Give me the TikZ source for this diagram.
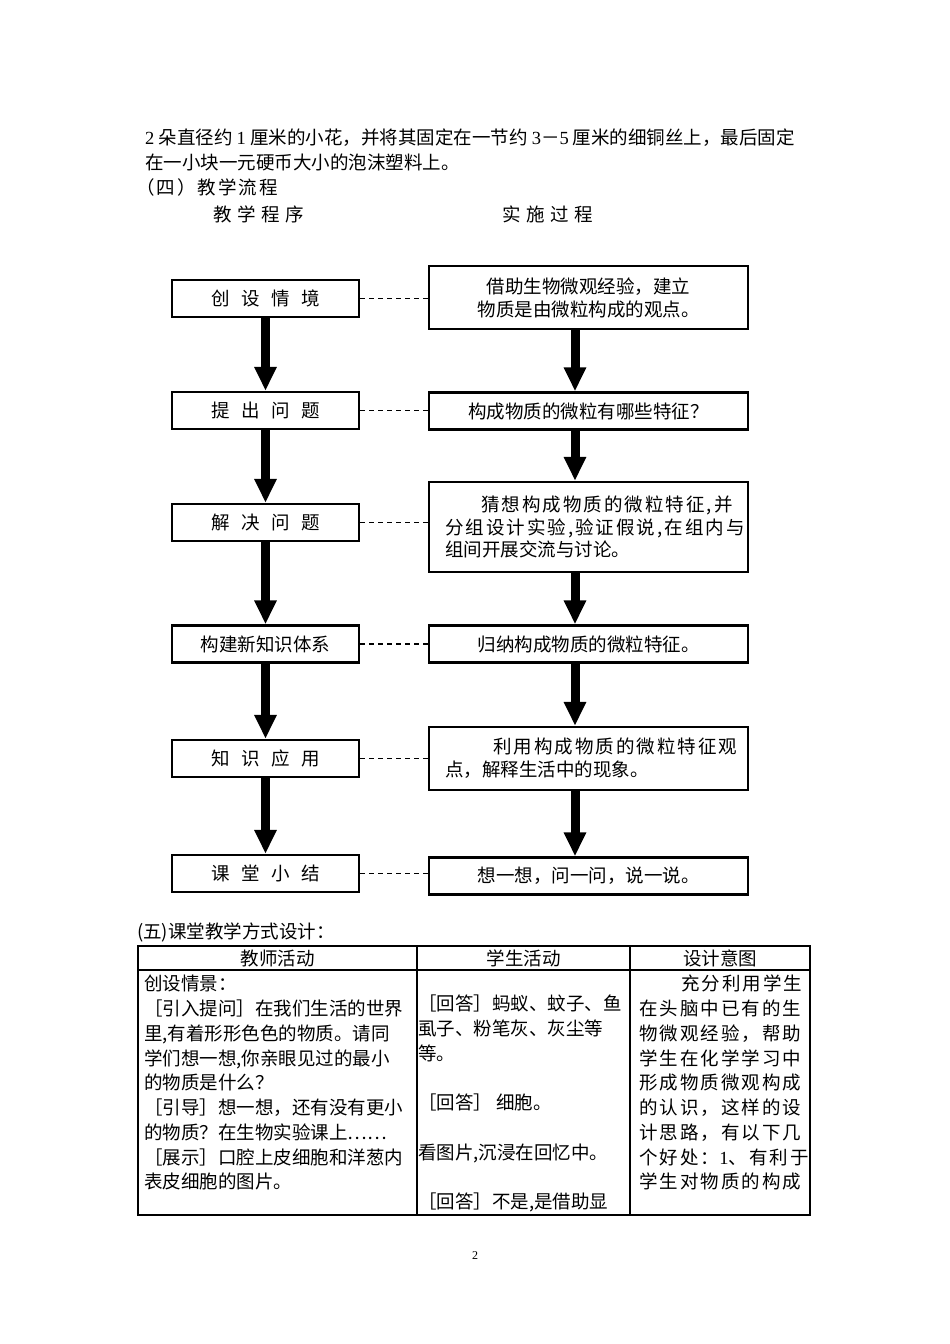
\documentclass[tikz,border=0pt]{standalone}
\usepackage{fontspec}
\usetikzlibrary{arrows.meta, positioning}
\setmainfont{Noto Sans CJK SC}
\newfontfamily\latinrm{Liberation Serif}
\newfontfamily\widecjk[LetterSpace=11]{Noto Sans CJK SC}
\newcommand{\wgap}{\hspace{0.62em}}
\newcommand{\ngap}{\hspace{0.3em}}

\tikzset{
  body/.style={font=\fontsize{18.5}{24.75}\selectfont, inner sep=0pt, align=left},
  phasebox/.style={draw, line width=2.4pt, minimum width=187pt, minimum height=37pt,
    inner sep=0pt, font=\fontsize{18.5}{23}\selectfont},
  actbox/.style={draw, line width=2.4pt, text width=287pt, inner xsep=16pt, inner ysep=0pt,
    minimum height=37pt, font=\fontsize{18.5}{23}\selectfont},
  flowarrow/.style={line width=9pt, -{Triangle[width=21pt,length=24pt]}},
  linkline/.style={line width=1.2pt, dash pattern=on 5pt off 4pt},
  rule/.style={line width=1.1pt}
}

\begin{document}
\begin{tikzpicture}[x=1pt, y=-1pt]
  \fill[white] (0,0) rectangle (950,1344);
  \useasboundingbox (0,0) rectangle (950,1344);

  % text above the flow chart
  \node[body, anchor=north west] (intro) at (145,129)
    {{\latinrm 2} 朵直径约 {\latinrm 1} 厘米的小花，并将其固定在一节约 {\latinrm 3}－{\latinrm 5} 厘米的细铜丝上，最后固定\\
     在一小块一元硬币大小的泡沫塑料上。};
  \node[body, anchor=west, font=\widecjk\fontsize{18.5}{24.75}\selectfont] (sec4) at (136,187) {（四）教学流程};
  \node[body, anchor=west] (colA) at (213,214) {教\ngap 学\ngap 程\ngap 序};
  \node[body, anchor=west] (colB) at (502,214) {实\ngap 施\ngap 过\ngap 程};

  % teaching steps
  \node[phasebox] (p1) at (265.5,298.5) {创\wgap 设\wgap 情\wgap 境};
  \node[phasebox] (p2) at (265.5,410.5) {提\wgap 出\wgap 问\wgap 题};
  \node[phasebox] (p3) at (265.5,522.5) {解\wgap 决\wgap 问\wgap 题};
  \node[phasebox] (p4) at (265.5,644) {构建新知识体系};
  \node[phasebox] (p5) at (265.5,758.5) {知\wgap 识\wgap 应\wgap 用};
  \node[phasebox] (p6) at (265.5,873.5) {课\wgap 堂\wgap 小\wgap 结};

  % what is done in each step
  \node[actbox, align=center, minimum height=63pt] (a1) at (588.5,297.5)
    {借助生物微观经验，建立\\物质是由微粒构成的观点。};
  \node[actbox, align=center] (a2) at (588.5,411) {构成物质的微粒有哪些特征？};
  \node[actbox, align=left, minimum height=90pt, font=\fontsize{18.5}{22.5}\selectfont] (a3) at (588.5,527)
    {\hspace*{36pt}{\widecjk 猜想构成物质的微粒特征,并}\\
     {\widecjk 分组设计实验,验证假说,在组内与}\\
     组间开展交流与讨论。\\[8pt]};
  \node[actbox, align=center] (a4) at (588.5,644) {归纳构成物质的微粒特征。};
  \node[actbox, align=left, minimum height=63pt] (a5) at (588.5,758.5)
    {\hspace*{48pt}{\widecjk 利用构成物质的微粒特征观}\\点，解释生活中的现象。};
  \node[actbox, align=center] (a6) at (588.5,876) {想一想，问一问，说一说。};

  \foreach \i in {1,...,6}
    \draw[linkline] (p\i.east) -- (p\i.east -| a\i.west);

  \foreach \a/\b in {1/2,2/3,3/4,4/5,5/6} {
    \draw[flowarrow] (p\a.south) -- (p\b.north);
    \draw[flowarrow] ([xshift=-13.5pt]a\a.south) -- ([xshift=-13.5pt]a\b.north);
  }

  % lesson design table
  \node[body, anchor=west] (sec5) at (137,932) {(五)课堂教学方式设计：};
  \draw[rule] (138,946) rectangle (810,1215);
  \draw[rule] (138,970) -- (810,970);
  \draw[rule] (417,946) -- (417,1215);
  \draw[rule] (630,946) -- (630,1215);

  \node[body] (th1) at (277.5,958) {教师活动};
  \node[body] (th2) at (523.5,958) {学生活动};
  \node[body] (th3) at (720,958) {设计意图};

  \node[body, anchor=north west] (teacher) at (144,975)
    {创设情景：\\
     ［引入提问］在我们生活的世界\\
     里,有着形形色色的物质。请同\\
     学们想一想,你亲眼见过的最小\\
     的物质是什么？\\
     ［引导］想一想，还有没有更小\\
     的物质？在生物实验课上……\\
     ［展示］口腔上皮细胞和洋葱内\\
     表皮细胞的图片。};
  \node[body, anchor=north west] (student) at (418,995)
    {［回答］蚂蚁、蚊子、鱼\\
     虱子、粉笔灰、灰尘等\\
     等。\\[24.75pt]
     ［回答］\ 细胞。\\[24.75pt]
     看图片,沉浸在回忆中。\\[24.75pt]
     ［回答］不是,是借助显};
  \node[body, anchor=north west, font=\widecjk\fontsize{18.5}{24.75}\selectfont] (intent) at (639,975)
    {\hspace*{42pt}充分利用学生\\
     在头脑中已有的生\\
     物微观经验，帮助\\
     学生在化学学习中\\
     形成物质微观构成\\
     的认识，这样的设\\
     计思路，有以下几\\
     个好处：{\latinrm 1}、有利于\\
     学生对物质的构成};

  \node[font=\latinrm\fontsize{12}{14}\selectfont] (pageno) at (475,1256) {2};
\end{tikzpicture}
\end{document}
